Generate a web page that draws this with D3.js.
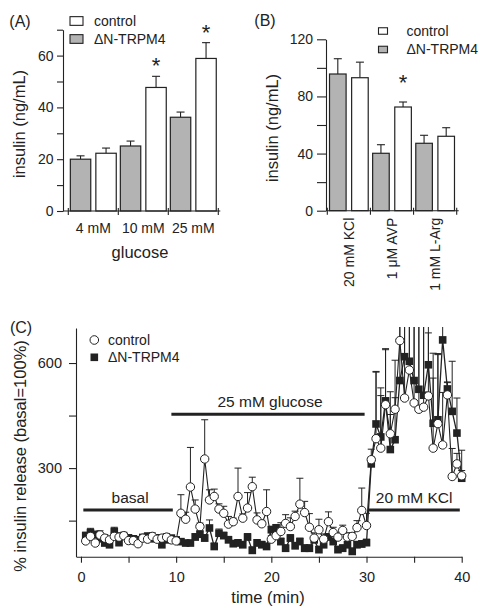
<!DOCTYPE html>
<html><head><meta charset="utf-8">
<script src="https://cdn.jsdelivr.net/npm/d3@7"></script>
<style>
body{margin:0;background:#fff;}
svg{display:block;font-family:"Liberation Sans",Arial,Helvetica,sans-serif;}
</style></head><body>
<svg id="chart" width="492" height="616"></svg>
<script>
// ---------- DATA ----------
const seriesKeys = ["ΔN-TRPM4", "control"];

// Panel A: glucose
const glucoseCats = ["4 mM", "10 mM", "25 mM"];
const aTrpm = [20.0, 25.1, 36.2];
const aTrpmErr = [1.3, 1.9, 2.0];
const aCtrl = [22.3, 47.7, 58.9];
const aCtrlErr = [2.0, 4.3, 6.1];
const aStar = [false, true, true];
const aTicks = [0, 10, 20, 30, 40, 50, 60, 70];
const aTickLabels = [0, 20, 40, 60];

// Panel B: secretagogues
const stimCats = ["20 mM KCl", "1 μM AVP", "1 mM L-Arg"];
const bTrpm = [95.7, 40.2, 47.2];
const bTrpmErr = [10.7, 6.0, 5.6];
const bCtrl = [93.1, 72.6, 52.1];
const bCtrlErr = [10.9, 3.5, 6.0];
const bStar = [false, true, false];
const bTicks = [0, 20, 40, 60, 80, 100, 120];
const bTickLabels = [0, 40, 80, 120];

// Panel C: perifusion time course
const cTime = [0.5,1,1.5,2,2.5,3,3.5,4,4.5,5,5.5,6,6.5,7,7.5,8,8.5,9,9.5,10,
  10.5,11,11.5,12,12.5,13,13.5,14,14.5,15,15.5,16,16.5,17,17.5,18,18.5,19,19.5,20,
  20.5,21,21.5,22,22.5,23,23.5,24,24.5,25,25.5,26,26.5,27,27.5,28,28.5,29,29.5,30,
  30.5,31,31.5,32,32.5,33,33.5,34,34.5,35,35.5,36,36.5,37,37.5,38,38.5,39,39.5,40];
const cCtrl = [92,105,86,109,100,95,105,103,107,93,93,84,100,97,105,97,100,103,95,92,
  171,154,246,183,133,326,209,219,183,171,140,147,219,157,186,247,152,141,176,97,
  107,119,142,133,162,197,173,131,100,124,97,147,116,103,122,103,105,130,179,136,
  324,384,357,481,398,468,664,500,580,486,468,474,506,357,427,366,509,276,312,278];
const cCtrlErr = [8,10,8,12,10,8,10,12,10,8,8,8,10,8,10,8,8,10,8,8,
  53,20,113,26,10,112,29,21,15,20,22,10,81,12,44,27,20,10,62,10,
  15,25,25,25,15,74,32,39,15,30,15,28,15,12,15,12,10,20,64,35,
  30,190,150,160,120,140,160,220,150,240,250,240,180,200,200,150,35,80,30,15];
const cTrpm = [107,116,110,98,86,81,119,87,105,100,98,95,102,105,98,100,81,95,100,95,
  90,86,86,103,111,100,129,76,114,107,95,84,86,81,103,65,86,81,76,124,
  129,90,71,100,78,90,71,71,95,67,81,103,90,67,71,81,62,81,83,87,
  312,426,389,492,353,381,550,618,605,550,525,508,595,428,438,666,526,462,400,271];
const cTrpmErr = [10,12,10,10,8,10,12,10,8,10,8,10,8,10,8,10,8,10,8,8,
  8,8,8,10,10,10,23,10,12,10,10,10,10,10,10,10,10,10,10,10,
  10,10,10,10,10,10,10,10,10,10,10,10,10,10,10,10,10,10,10,10,
  20,150,140,146,100,120,200,200,200,220,220,230,150,200,186,40,20,143,100,80];
const cXTicks = [0, 5, 10, 15, 20, 25, 30, 35, 40];
const cYTicks = [150, 300, 450, 600];
const cYTickLabels = [300, 600];
// stimulus bars: [label, start, end, level]
const stimLabels = ["basal", "25 mM glucose", "20 mM KCl"];
const stimStart = [0.25, 9.5, 30.2];
const stimEnd = [9.65, 29.8, 39.8];
const stimLevel = [180, 454, 180];

// ---------- STYLE ----------
const ink = "#222";
const greyFill = "#b3b3b3";
const svg = d3.select("#chart");

function styleAxis(g, fs) {
  g.attr("color", ink).attr("font-family", null).attr("font-size", fs);
  g.selectAll("text").attr("fill", ink);
  g.selectAll("path,line").attr("stroke-width", 1.1);
}

function barPanel(o) {
  const g = svg.append("g");
  const y = d3.scaleLinear().domain(o.yDomain).range(o.yRange);
  const x = d3.scaleBand().domain(o.cats).range(o.xRange);
  const inner = d3.scaleBand().domain(seriesKeys).range([0, x.bandwidth()])
    .paddingInner(o.padIn).paddingOuter(o.padOut);
  const rows = [];
  o.cats.forEach((c, i) => {
    rows.push({c, k: seriesKeys[0], v: o.trpm[i], e: o.trpmErr[i], star: false});
    rows.push({c, k: seriesKeys[1], v: o.ctrl[i], e: o.ctrlErr[i], star: o.star[i]});
  });
  // error bars
  rows.forEach(r => {
    const cx = x(r.c) + inner(r.k) + inner.bandwidth() / 2;
    g.append("line").attr("x1", cx).attr("x2", cx).attr("y1", y(r.v)).attr("y2", y(r.v + r.e))
      .attr("stroke", ink).attr("stroke-width", 1.1);
    g.append("line").attr("x1", cx - 4).attr("x2", cx + 4).attr("y1", y(r.v + r.e)).attr("y2", y(r.v + r.e))
      .attr("stroke", ink).attr("stroke-width", 1.1);
    if (r.star) {
      g.append("text").attr("x", cx).attr("y", y(r.v + r.e) - o.starGap)
        .attr("text-anchor", "middle").attr("font-size", 22).attr("fill", ink).text("*");
    }
  });
  g.selectAll("rect.bar").data(rows).join("rect").attr("class", "bar")
    .attr("x", r => x(r.c) + inner(r.k))
    .attr("width", inner.bandwidth())
    .attr("y", r => y(r.v))
    .attr("height", r => y(0) - y(r.v))
    .attr("fill", r => r.k === "control" ? "#fff" : greyFill)
    .attr("stroke", ink).attr("stroke-width", 1.2);
  // y axis
  const ya = g.append("g").attr("transform", `translate(${o.axisX},0)`)
    .call(d3.axisLeft(y).tickValues(o.ticks).tickSize(o.tickLen).tickSizeOuter(0).tickPadding(o.tickPad)
      .tickFormat(d => o.tickLabels.includes(d) ? d : ""));
  styleAxis(ya, 14);
  // x axis line + group separators
  const y0 = y(0);
  g.append("line").attr("x1", o.axisX).attr("x2", o.xRange[1] + 2).attr("y1", y0).attr("y2", y0)
    .attr("stroke", ink).attr("stroke-width", 1.1);
  const seps = o.cats.map(c => x(c)).concat([o.xRange[1]]);
  seps.forEach(s => g.append("line").attr("x1", s).attr("x2", s).attr("y1", y0 - 3).attr("y2", y0 + 4)
    .attr("stroke", ink).attr("stroke-width", 1.1));
  // category labels
  o.cats.forEach(c => {
    const cx = x(c) + x.bandwidth() / 2;
    if (o.rotate) {
      g.append("text").attr("transform", `translate(${cx + 5},${y0 + 7}) rotate(-90)`)
        .attr("text-anchor", "end").attr("font-size", 14).attr("fill", ink).text(c);
    } else {
      g.append("text").attr("x", cx).attr("y", y0 + 22).attr("text-anchor", "middle")
        .attr("font-size", 14).attr("fill", ink).text(c);
    }
  });
  // y title
  g.append("text").attr("transform", `translate(${o.titleX},${o.titleY}) rotate(-90)`)
    .attr("text-anchor", "middle").attr("dy", "0.35em").attr("font-size", 16.5).attr("fill", ink)
    .text("insulin (ng/mL)");
  // panel letter
  g.append("text").attr("x", o.letterX).attr("y", o.letterY).attr("text-anchor", "middle")
    .attr("dy", "0.35em").attr("font-size", 16).attr("fill", ink).text(o.letter);
  // legend
  const lg = o.legend;
  [["control", "#fff", lg.y1], ["ΔN-TRPM4", greyFill, lg.y2]].forEach(([t, f, yy]) => {
    g.append("rect").attr("x", lg.bx).attr("y", yy - lg.bh / 2).attr("width", lg.bw).attr("height", lg.bh)
      .attr("fill", f).attr("stroke", ink).attr("stroke-width", 1.1);
    g.append("text").attr("x", lg.tx).attr("y", yy).attr("dy", "0.35em").attr("font-size", 14)
      .attr("fill", ink).text(t);
  });
  return {g, y, x, y0};
}

const A = barPanel({
  cats: glucoseCats, trpm: aTrpm, trpmErr: aTrpmErr, ctrl: aCtrl, ctrlErr: aCtrlErr, star: aStar,
  ticks: aTicks, tickLabels: aTickLabels, yDomain: [0, 70], yRange: [211, 29.7], xRange: [68.3, 218.3],
  padIn: 0.2, padOut: 0.08, axisX: 63, tickLen: 6, tickPad: 3.5, starGap: 3, rotate: false,
  titleX: 19, titleY: 124, letter: "(A)", letterX: 20, letterY: 21,
  legend: {bx: 70, bw: 13, bh: 8.7, tx: 94, y1: 21, y2: 39}
});
A.g.append("text").attr("x", 140).attr("y", 258).attr("text-anchor", "middle")
  .attr("font-size", 16.5).attr("fill", ink).text("glucose");

barPanel({
  cats: stimCats, trpm: bTrpm, trpmErr: bTrpmErr, ctrl: bCtrl, ctrlErr: bCtrlErr, star: bStar,
  ticks: bTicks, tickLabels: bTickLabels, yDomain: [0, 120], yRange: [210.7, 39.3], xRange: [327.3, 456.7],
  padIn: 0.25, padOut: 0.1, axisX: 326, tickLen: 9, tickPad: 4, starGap: 12, rotate: true,
  titleX: 272, titleY: 128, letter: "(B)", letterX: 265, letterY: 20,
  legend: {bx: 378.5, bw: 9, bh: 6.5, tx: 406.5, y1: 31, y2: 49.5}
});

// ---------- Panel C ----------
const gc = svg.append("g");
const cx = d3.scaleLinear().domain([-0.5, 40]).range([76.2, 461.7]);
const cy = d3.scaleLinear().domain([47, 700]).range([556.7, 328]);

gc.append("defs").append("clipPath").attr("id", "cclip").append("rect")
  .attr("x", 76).attr("y", 327).attr("width", 400).attr("height", 232);

const ctrlRows = cTime.map((t, i) => ({t, v: cCtrl[i], e: cCtrlErr[i]}));
const trpmRows = cTime.map((t, i) => ({t, v: cTrpm[i], e: cTrpmErr[i]}));

const plot = gc.append("g").attr("clip-path", "url(#cclip)");
function errBars(rows) {
  rows.forEach(r => {
    const px = cx(r.t);
    plot.append("line").attr("x1", px).attr("x2", px).attr("y1", cy(r.v)).attr("y2", cy(r.v + r.e))
      .attr("stroke", ink).attr("stroke-width", 1);
    plot.append("line").attr("x1", px - 3.5).attr("x2", px + 3.5).attr("y1", cy(r.v + r.e)).attr("y2", cy(r.v + r.e))
      .attr("stroke", ink).attr("stroke-width", 1);
  });
}
errBars(trpmRows);
errBars(ctrlRows);
const line = d3.line().x(d => cx(d.t)).y(d => cy(d.v));
plot.append("path").datum(trpmRows).attr("d", line).attr("fill", "none").attr("stroke", ink).attr("stroke-width", 1.3);
plot.append("path").datum(ctrlRows).attr("d", line).attr("fill", "none").attr("stroke", ink).attr("stroke-width", 1.1);
plot.selectAll("rect.sq").data(trpmRows).join("rect").attr("class", "sq")
  .attr("x", d => cx(d.t) - 3.8).attr("y", d => cy(d.v) - 3.8).attr("width", 7.6).attr("height", 7.6)
  .attr("fill", ink);
plot.selectAll("circle.ci").data(ctrlRows).join("circle").attr("class", "ci")
  .attr("cx", d => cx(d.t)).attr("cy", d => cy(d.v)).attr("r", 4.2)
  .attr("fill", "#fff").attr("stroke", ink).attr("stroke-width", 1);

// stimulus bars
stimLabels.forEach((s, i) => {
  gc.append("line").attr("x1", cx(stimStart[i])).attr("x2", cx(stimEnd[i]))
    .attr("y1", cy(stimLevel[i])).attr("y2", cy(stimLevel[i]))
    .attr("stroke", ink).attr("stroke-width", 3);
  gc.append("text").attr("x", (cx(stimStart[i]) + cx(stimEnd[i])) / 2 + (i === 2 ? 0 : 2))
    .attr("y", cy(stimLevel[i]) - 7).attr("text-anchor", "middle").attr("font-size", 15.5)
    .attr("fill", ink).text(s);
});

// axes
const cxa = gc.append("g").attr("transform", "translate(0,556.7)")
  .call(d3.axisBottom(cx).tickValues(cXTicks).tickSize(6).tickSizeOuter(0).tickPadding(9)
    .tickFormat(d => d % 10 === 0 ? d : ""));
styleAxis(cxa, 14.5);
const cya = gc.append("g").attr("transform", "translate(76,0)")
  .call(d3.axisLeft(cy).tickValues(cYTicks).tickSize(7).tickSizeOuter(0).tickPadding(7)
    .tickFormat(d => cYTickLabels.includes(d) ? d : ""));
styleAxis(cya, 14.5);

gc.append("text").attr("x", 268).attr("y", 603).attr("text-anchor", "middle")
  .attr("font-size", 16.5).attr("fill", ink).text("time (min)");
gc.append("text").attr("transform", "translate(20,456) rotate(-90)").attr("text-anchor", "middle")
  .attr("dy", "0.35em").attr("font-size", 16.5).attr("fill", ink).text("% insulin release (basal=100%)");
gc.append("text").attr("x", 21).attr("y", 327).attr("dy", "0.35em").attr("text-anchor", "middle")
  .attr("font-size", 16).attr("fill", ink).text("(C)");

// legend C
gc.append("circle").attr("cx", 94.3).attr("cy", 340).attr("r", 4.3).attr("fill", "#fff")
  .attr("stroke", ink).attr("stroke-width", 1);
gc.append("text").attr("x", 108).attr("y", 340).attr("dy", "0.35em").attr("font-size", 14)
  .attr("fill", ink).text("control");
gc.append("rect").attr("x", 90.5).attr("y", 353.5).attr("width", 7.6).attr("height", 7.6).attr("fill", ink);
gc.append("text").attr("x", 108).attr("y", 357.3).attr("dy", "0.35em").attr("font-size", 14)
  .attr("fill", ink).text("ΔN-TRPM4");
</script></body></html>
